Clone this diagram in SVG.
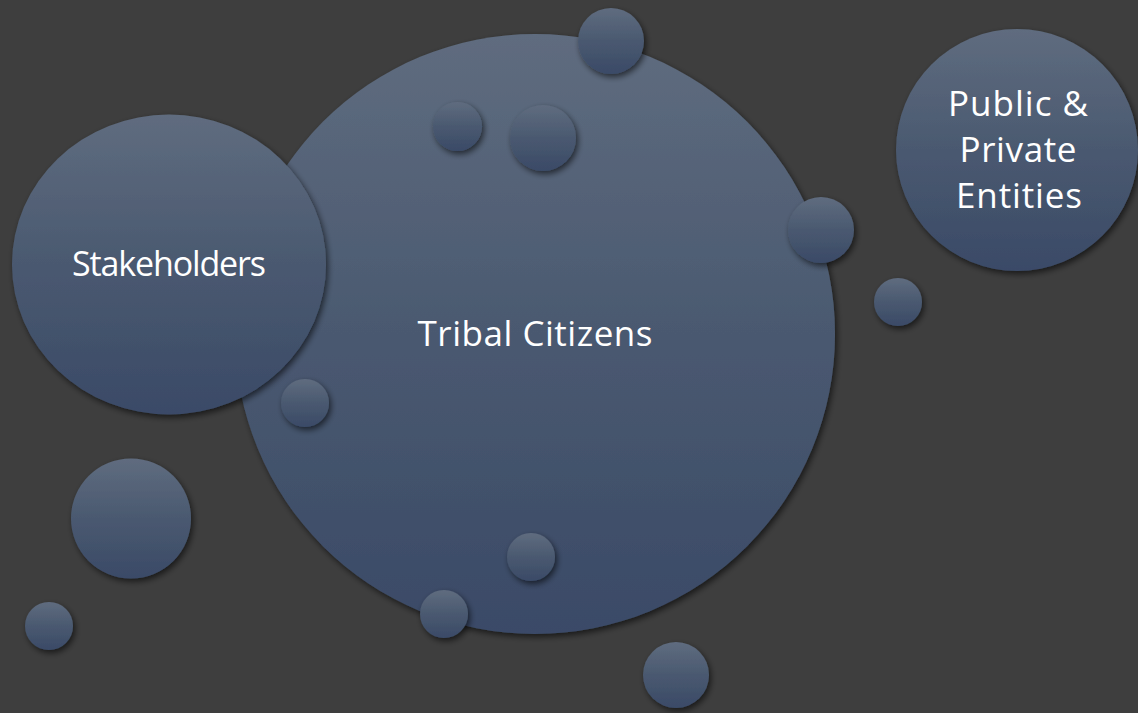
<svg xmlns="http://www.w3.org/2000/svg" width="1138" height="713" viewBox="0 0 1138 713">
<defs>
<linearGradient id="g" x1="0" y1="0" x2="0" y2="1">
<stop offset="0" stop-color="#5f6c7f"/>
<stop offset="0.5" stop-color="#4a5970"/>
<stop offset="1" stop-color="#3a4a67"/>
</linearGradient>
<filter id="sh" x="-20%" y="-20%" width="140%" height="140%">
<feGaussianBlur in="SourceAlpha" stdDeviation="3"/>
<feOffset dx="2" dy="3" result="b"/>
<feComponentTransfer><feFuncA type="linear" slope="0.6"/></feComponentTransfer>
<feMerge><feMergeNode/><feMergeNode in="SourceGraphic"/></feMerge>
</filter>
<style>
.c{fill:url(#g);filter:url(#sh)}
.t{fill:#ffffff;font-family:"Open Sans","Noto Sans","Liberation Sans",sans-serif;font-size:35px;text-anchor:middle}
</style>
</defs>
<rect width="1138" height="713" fill="#3e3e3e"/>
<g id="connectors"/>
<g id="tribal-citizens">
<circle class="c" cx="535" cy="334" r="300"/>
<text class="t" x="535" y="346" textLength="235">Tribal Citizens</text>
</g>
<g id="stakeholders">
<ellipse class="c" cx="169" cy="264.5" rx="157" ry="150"/>
<text class="t" x="169" y="276" textLength="194" style="font-size:34px">Stakeholders</text>
</g>
<g id="public-private">
<circle class="c" cx="1017" cy="150" r="121"/>
<text class="t" x="1018" y="116" textLength="140">Public &amp;</text>
<text class="t" x="1018" y="162" textLength="117">Private</text>
<text class="t" x="1019" y="208" textLength="126">Entities</text>
</g>
<g id="bubbles">
<circle class="c" cx="611" cy="41" r="33"/>
<circle class="c" cx="457.5" cy="126.5" r="24.5"/>
<circle class="c" cx="543" cy="138" r="33"/>
<circle class="c" cx="821" cy="230" r="33"/>
<circle class="c" cx="898" cy="302" r="24"/>
<circle class="c" cx="305" cy="403" r="24"/>
<circle class="c" cx="131" cy="518.5" r="60"/>
<circle class="c" cx="49" cy="626" r="24"/>
<circle class="c" cx="531" cy="557" r="24"/>
<circle class="c" cx="444" cy="614" r="24"/>
<circle class="c" cx="676" cy="675" r="33"/>
</g>
</svg>
